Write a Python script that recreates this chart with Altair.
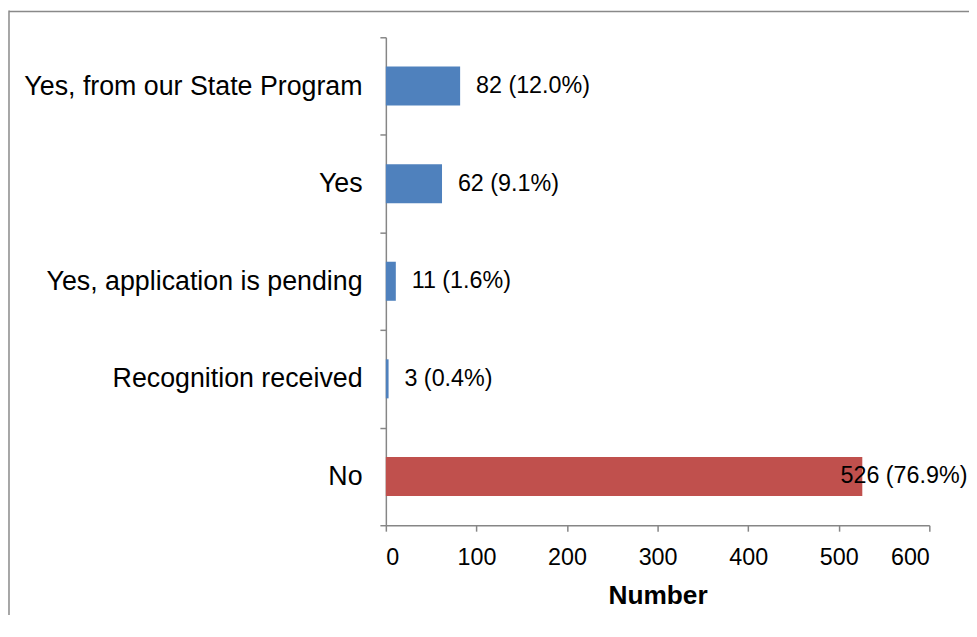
import altair as alt
import pandas as pd

categories = ["Yes, from our State Program", "Yes", "Yes, application is pending",
              "Recognition received", "No"]
counts = [82, 62, 11, 3, 526]
percents = ["12.0%", "9.1%", "1.6%", "0.4%", "76.9%"]
colors = ["#4F81BD", "#4F81BD", "#4F81BD", "#4F81BD", "#C0504D"]

df = pd.DataFrame({
    "category": categories,
    "count": counts,
    "pct": percents,
    "color": colors,
})
df["label"] = [f"{c} ({p})" for c, p in zip(counts, percents)]

FONT = "Liberation Sans"
AXIS_COLOR = "#868686"

y_enc = alt.Y("category:N", sort=categories,
              scale=alt.Scale(paddingInner=0, paddingOuter=0),
              axis=alt.Axis(title=None, tickBand="extent", labelFontSize=27,
                            labelFont=FONT, labelColor="#000000", labelLimit=0,
                            labelPadding=18, tickSize=6, domainColor=AXIS_COLOR,
                            tickColor=AXIS_COLOR, domainWidth=1.5, tickWidth=1.5))

x_enc = alt.X("count:Q", scale=alt.Scale(domain=[0, 600]),
              axis=alt.Axis(title="Number", values=[0, 100, 200, 300, 400, 500, 600],
                            grid=False, labelFontSize=23.5, labelFont=FONT,
                            labelColor="#000000", labelPadding=15, tickSize=6,
                            domainColor=AXIS_COLOR, tickColor=AXIS_COLOR,
                            domainWidth=1.5, tickWidth=1.5,
                            titleFont=FONT, titleFontSize=26.5, titleFontWeight="bold",
                            titleColor="#000000", titlePadding=13))

base = alt.Chart(df)

bars = base.mark_bar(height=alt.RelativeBandSize(0.4)).encode(
    x=x_enc,
    y=y_enc,
    color=alt.Color("color:N", scale=None),
)

labels_small = base.transform_filter(alt.datum["count"] < 500).mark_text(
    align="left", baseline="middle", dx=16, font=FONT, fontSize=23.5, color="#000000"
).encode(x="count:Q", y=alt.Y("category:N", sort=categories), text="label:N")

labels_big = base.transform_filter(alt.datum["count"] >= 500).mark_text(
    align="left", baseline="middle", dx=-22, font=FONT, fontSize=23.5, color="#000000"
).encode(x="count:Q", y=alt.Y("category:N", sort=categories), text="label:N")

one = alt.Data(values=[{}])
border_left = alt.Chart(one).mark_rule(color="#898989", strokeWidth=1.5).encode(
    x=alt.value(-380), y=alt.value(-27), y2=alt.value(620))
border_top = alt.Chart(one).mark_rule(color="#898989", strokeWidth=1.5).encode(
    x=alt.value(-380), x2=alt.value(700), y=alt.value(-26))

chart = alt.layer(bars, labels_small, labels_big, border_left, border_top).properties(
    width=548, height=492,
    autosize=alt.AutoSizeParams(type="none"),
    padding={"left": 381, "top": 27, "right": 40, "bottom": 88},
).configure(background="white").configure_view(stroke=None)

chart.save("out.html", embed_options={"renderer": "svg", "actions": False})
